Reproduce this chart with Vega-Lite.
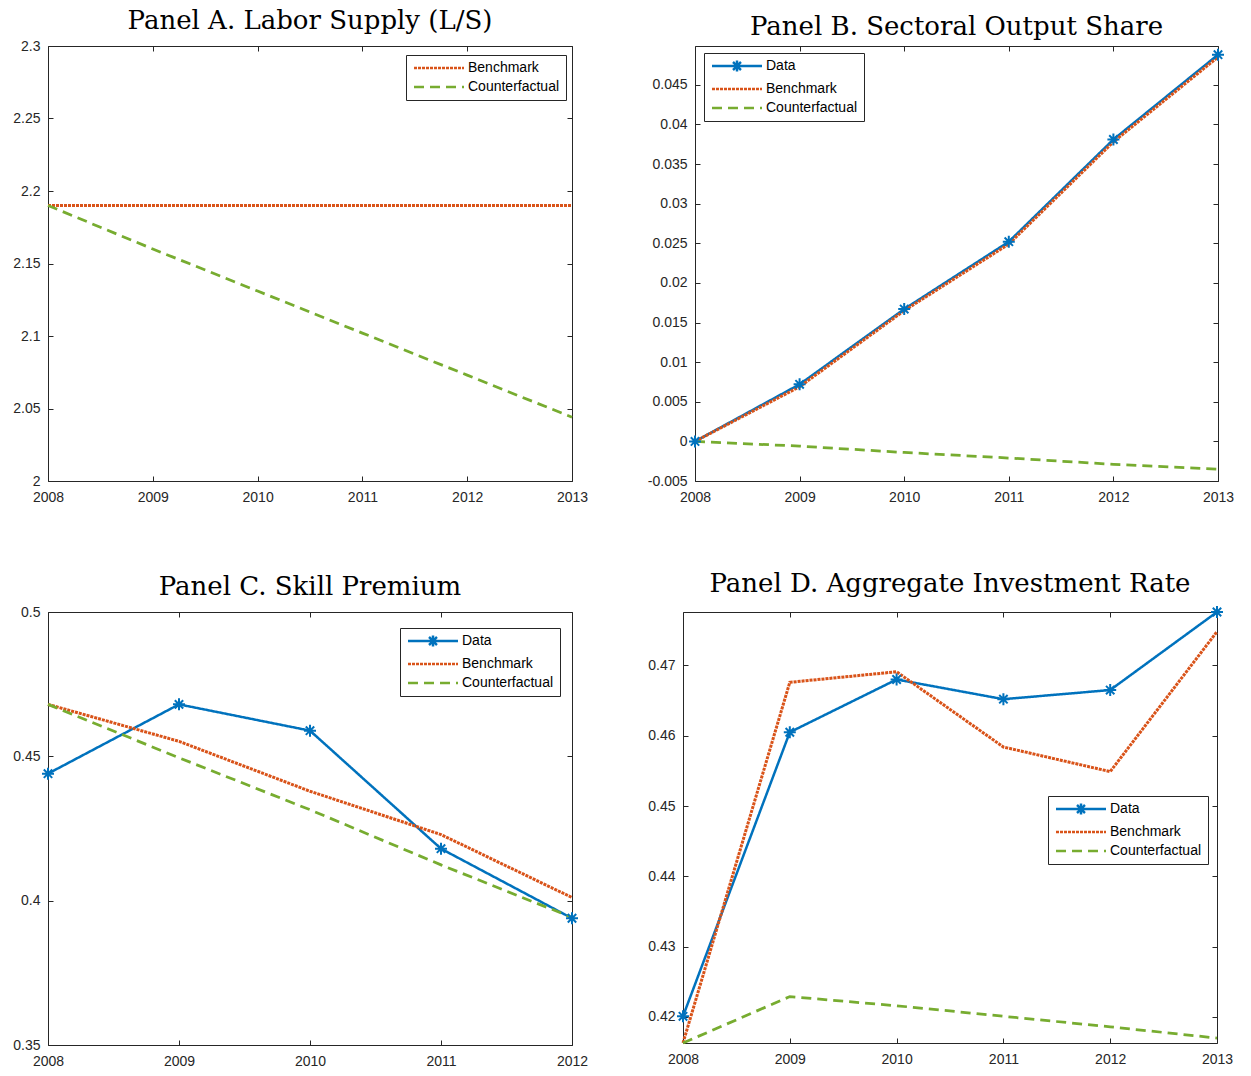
{
  "$schema": "https://vega.github.io/schema/vega-lite/v6.json",
  "background": "white",
  "padding": {"left": 12, "top": 7, "right": 5, "bottom": 5},
  "config": {
    "view": {"stroke": "#262626", "strokeWidth": 1},
    "font": "Liberation Sans",
    "title": {"font": "DejaVu Serif", "fontSize": 26, "fontWeight": "normal", "color": "#000000", "offset": 5, "anchor": "middle"},
    "axis": {"grid": false, "domain": false, "tickSize": -5, "tickColor": "#262626", "labelColor": "#262626", "labelFont": "Liberation Sans", "labelFontSize": 14, "labelFlush": false, "labelOverlap": false, "title": null},
    "legend": {"orient": "none", "title": null, "strokeColor": "#262626", "fillColor": "white", "padding": 6, "labelFont": "Liberation Sans", "labelFontSize": 14, "labelColor": "#000000", "symbolSize": 100, "symbolStrokeWidth": 2.5, "labelOffset": 42, "rowPadding": 5, "cornerRadius": 0}
  },
  "datasets": {
    "A": [
      {"year": 2008, "series": "Benchmark", "value": 2.19},
      {"year": 2009, "series": "Benchmark", "value": 2.19},
      {"year": 2010, "series": "Benchmark", "value": 2.19},
      {"year": 2011, "series": "Benchmark", "value": 2.19},
      {"year": 2012, "series": "Benchmark", "value": 2.19},
      {"year": 2013, "series": "Benchmark", "value": 2.19},
      {"year": 2008, "series": "Counterfactual", "value": 2.19},
      {"year": 2009, "series": "Counterfactual", "value": 2.160},
      {"year": 2010, "series": "Counterfactual", "value": 2.131},
      {"year": 2011, "series": "Counterfactual", "value": 2.102},
      {"year": 2012, "series": "Counterfactual", "value": 2.073},
      {"year": 2013, "series": "Counterfactual", "value": 2.044}
    ],
    "B": [
      {"year": 2008, "series": "Data", "value": 0.0},
      {"year": 2009, "series": "Data", "value": 0.0072},
      {"year": 2010, "series": "Data", "value": 0.0167},
      {"year": 2011, "series": "Data", "value": 0.0252},
      {"year": 2012, "series": "Data", "value": 0.0381},
      {"year": 2013, "series": "Data", "value": 0.0488},
      {"year": 2008, "series": "Benchmark", "value": 0.0},
      {"year": 2009, "series": "Benchmark", "value": 0.0069},
      {"year": 2010, "series": "Benchmark", "value": 0.0165},
      {"year": 2011, "series": "Benchmark", "value": 0.0249},
      {"year": 2012, "series": "Benchmark", "value": 0.0378},
      {"year": 2013, "series": "Benchmark", "value": 0.0485},
      {"year": 2008, "series": "Counterfactual", "value": 0.0},
      {"year": 2009, "series": "Counterfactual", "value": -0.0006},
      {"year": 2010, "series": "Counterfactual", "value": -0.0014},
      {"year": 2011, "series": "Counterfactual", "value": -0.0021},
      {"year": 2012, "series": "Counterfactual", "value": -0.0029},
      {"year": 2013, "series": "Counterfactual", "value": -0.0035}
    ],
    "C": [
      {"year": 2008, "series": "Data", "value": 0.4440},
      {"year": 2009, "series": "Data", "value": 0.4680},
      {"year": 2010, "series": "Data", "value": 0.4589},
      {"year": 2011, "series": "Data", "value": 0.4180},
      {"year": 2012, "series": "Data", "value": 0.3939},
      {"year": 2008, "series": "Benchmark", "value": 0.4680},
      {"year": 2009, "series": "Benchmark", "value": 0.4552},
      {"year": 2010, "series": "Benchmark", "value": 0.4379},
      {"year": 2011, "series": "Benchmark", "value": 0.4229},
      {"year": 2012, "series": "Benchmark", "value": 0.4011},
      {"year": 2008, "series": "Counterfactual", "value": 0.4680},
      {"year": 2009, "series": "Counterfactual", "value": 0.4495},
      {"year": 2010, "series": "Counterfactual", "value": 0.4315},
      {"year": 2011, "series": "Counterfactual", "value": 0.4124},
      {"year": 2012, "series": "Counterfactual", "value": 0.3942}
    ],
    "D": [
      {"year": 2008, "series": "Data", "value": 0.4201},
      {"year": 2009, "series": "Data", "value": 0.4605},
      {"year": 2010, "series": "Data", "value": 0.4680},
      {"year": 2011, "series": "Data", "value": 0.4652},
      {"year": 2012, "series": "Data", "value": 0.4665},
      {"year": 2013, "series": "Data", "value": 0.4776},
      {"year": 2008, "series": "Benchmark", "value": 0.4163},
      {"year": 2009, "series": "Benchmark", "value": 0.4676},
      {"year": 2010, "series": "Benchmark", "value": 0.4691},
      {"year": 2011, "series": "Benchmark", "value": 0.4584},
      {"year": 2012, "series": "Benchmark", "value": 0.4549},
      {"year": 2013, "series": "Benchmark", "value": 0.4748},
      {"year": 2008, "series": "Counterfactual", "value": 0.4163},
      {"year": 2009, "series": "Counterfactual", "value": 0.4229},
      {"year": 2010, "series": "Counterfactual", "value": 0.4216},
      {"year": 2011, "series": "Counterfactual", "value": 0.4201},
      {"year": 2012, "series": "Counterfactual", "value": 0.4186},
      {"year": 2013, "series": "Counterfactual", "value": 0.4170}
    ]
  },
  "spacing": 65,
  "resolve": {"scale": {"color": "independent", "strokeDash": "independent"}, "legend": {"color": "independent", "strokeDash": "independent"}},
  "vconcat": [
    {
      "hconcat": [
        {
          "title": "Panel A. Labor Supply (L/S)",
          "width": 524, "height": 435,
          "data": {"name": "A"},
          "layer": [
            {
              "mark": {"type": "line"},
              "encoding": {
                "x": {"field": "year", "type": "quantitative", "scale": {"domain": [2008, 2013], "nice": false, "zero": false}, "axis": {"orient": "bottom", "values": [2008, 2009, 2010, 2011, 2012, 2013], "format": "d", "labelPadding": 14}},
                "y": {"field": "value", "type": "quantitative", "scale": {"domain": [2.0, 2.3], "nice": false, "zero": false}, "axis": {"orient": "left", "values": [2.0, 2.05, 2.1, 2.15, 2.2, 2.25, 2.3], "labelExpr": "datum.value + ''", "labelPadding": 13}},
                "color": {"field": "series", "type": "nominal", "scale": {"domain": ["Benchmark", "Counterfactual"], "range": ["#D95319", "#77AC30"]}, "legend": {"legendX": 358, "legendY": 9, "encode": {"symbols": {"update": {"shape": {"value": "M-1,0H9"}}}}}},
                "strokeDash": {"field": "series", "type": "nominal", "scale": {"domain": ["Benchmark", "Counterfactual"], "range": [[3, 1], [10, 6]]}, "legend": {"legendX": 358, "legendY": 9}},
                "strokeWidth": {"field": "series", "type": "nominal", "scale": {"domain": ["Benchmark", "Counterfactual"], "range": [3, 2.5]}, "legend": null}
              }
            },
            {
              "mark": {"type": "point", "opacity": 0},
              "encoding": {
                "x": {"field": "year", "type": "quantitative", "axis": {"orient": "top", "values": [2008, 2009, 2010, 2011, 2012, 2013], "labels": false}},
                "y": {"field": "value", "type": "quantitative", "axis": {"orient": "right", "values": [2.0, 2.05, 2.1, 2.15, 2.2, 2.25, 2.3], "labels": false}}
              }
            }
          ],
          "resolve": {"axis": {"x": "independent", "y": "independent"}}
        },
        {
          "title": "Panel B. Sectoral Output Share",
          "width": 523, "height": 435,
          "data": {"name": "B"},
          "layer": [
            {
              "mark": {"type": "line"},
              "encoding": {
                "x": {"field": "year", "type": "quantitative", "scale": {"domain": [2008, 2013], "nice": false, "zero": false}, "axis": {"orient": "bottom", "values": [2008, 2009, 2010, 2011, 2012, 2013], "format": "d", "labelPadding": 14}},
                "y": {"field": "value", "type": "quantitative", "scale": {"domain": [-0.005, 0.0499], "nice": false, "zero": false}, "axis": {"orient": "left", "values": [-0.005, 0, 0.005, 0.01, 0.015, 0.02, 0.025, 0.03, 0.035, 0.04, 0.045], "labelExpr": "datum.value + ''", "labelPadding": 13}},
                "color": {"field": "series", "type": "nominal", "scale": {"domain": ["Data", "Benchmark", "Counterfactual"], "range": ["#0072BD", "#D95319", "#77AC30"]}, "legend": {"legendX": 9, "legendY": 7, "encode": {"symbols": {"update": {"shape": {"signal": "datum.value === 'Data' ? 'M-1,0H9M4,-1.1V1.1M2.9,0H5.1M3.2,-0.8L4.8,0.8M3.2,0.8L4.8,-0.8' : 'M-1,0H9'"}}}}}},
                "strokeDash": {"field": "series", "type": "nominal", "scale": {"domain": ["Data", "Benchmark", "Counterfactual"], "range": [[1, 0], [3, 1], [10, 6]]}, "legend": {"legendX": 9, "legendY": 7}},
                "strokeWidth": {"field": "series", "type": "nominal", "scale": {"domain": ["Data", "Benchmark", "Counterfactual"], "range": [2.5, 3, 2.5]}, "legend": null}
              }
            },
            {
              "transform": [{"filter": "datum.series === 'Data'"}],
              "mark": {"type": "point", "shape": "M0,-1V1M-1,0H1M-0.7,-0.7L0.7,0.7M-0.7,0.7L0.7,-0.7", "size": 144, "filled": false, "stroke": "#0072BD", "strokeWidth": 2, "opacity": 1},
              "encoding": {
                "x": {"field": "year", "type": "quantitative", "axis": {"orient": "top", "values": [2008, 2009, 2010, 2011, 2012, 2013], "labels": false}},
                "y": {"field": "value", "type": "quantitative", "axis": {"orient": "right", "values": [-0.005, 0, 0.005, 0.01, 0.015, 0.02, 0.025, 0.03, 0.035, 0.04, 0.045], "labels": false}}
              }
            }
          ],
          "resolve": {"axis": {"x": "independent", "y": "independent"}}
        }
      ],
      "bounds": "flush",
      "spacing": 123,
      "resolve": {"scale": {"color": "independent", "strokeDash": "independent"}, "legend": {"color": "independent", "strokeDash": "independent"}}
    },
    {
      "hconcat": [
        {
          "title": "Panel C. Skill Premium",
          "width": 524, "height": 433,
          "data": {"name": "C"},
          "layer": [
            {
              "mark": {"type": "line"},
              "encoding": {
                "x": {"field": "year", "type": "quantitative", "scale": {"domain": [2008, 2012], "nice": false, "zero": false}, "axis": {"orient": "bottom", "values": [2008, 2009, 2010, 2011, 2012], "format": "d", "labelPadding": 14}},
                "y": {"field": "value", "type": "quantitative", "scale": {"domain": [0.35, 0.5], "nice": false, "zero": false}, "axis": {"orient": "left", "values": [0.35, 0.4, 0.45, 0.5], "labelExpr": "datum.value + ''", "labelPadding": 13}},
                "color": {"field": "series", "type": "nominal", "scale": {"domain": ["Data", "Benchmark", "Counterfactual"], "range": ["#0072BD", "#D95319", "#77AC30"]}, "legend": {"legendX": 352, "legendY": 16, "encode": {"symbols": {"update": {"shape": {"signal": "datum.value === 'Data' ? 'M-1,0H9M4,-1.1V1.1M2.9,0H5.1M3.2,-0.8L4.8,0.8M3.2,0.8L4.8,-0.8' : 'M-1,0H9'"}}}}}},
                "strokeDash": {"field": "series", "type": "nominal", "scale": {"domain": ["Data", "Benchmark", "Counterfactual"], "range": [[1, 0], [3, 1], [10, 6]]}, "legend": {"legendX": 352, "legendY": 16}},
                "strokeWidth": {"field": "series", "type": "nominal", "scale": {"domain": ["Data", "Benchmark", "Counterfactual"], "range": [2.5, 3, 2.5]}, "legend": null}
              }
            },
            {
              "transform": [{"filter": "datum.series === 'Data'"}],
              "mark": {"type": "point", "shape": "M0,-1V1M-1,0H1M-0.7,-0.7L0.7,0.7M-0.7,0.7L0.7,-0.7", "size": 144, "filled": false, "stroke": "#0072BD", "strokeWidth": 2, "opacity": 1},
              "encoding": {
                "x": {"field": "year", "type": "quantitative", "axis": {"orient": "top", "values": [2008, 2009, 2010, 2011, 2012], "labels": false}},
                "y": {"field": "value", "type": "quantitative", "axis": {"orient": "right", "values": [0.35, 0.4, 0.45, 0.5], "labels": false}}
              }
            }
          ],
          "resolve": {"axis": {"x": "independent", "y": "independent"}}
        },
        {
          "title": "Panel D. Aggregate Investment Rate",
          "width": 534, "height": 431,
          "data": {"name": "D"},
          "layer": [
            {
              "mark": {"type": "line"},
              "encoding": {
                "x": {"field": "year", "type": "quantitative", "scale": {"domain": [2008, 2013], "nice": false, "zero": false}, "axis": {"orient": "bottom", "values": [2008, 2009, 2010, 2011, 2012, 2013], "format": "d", "labelPadding": 14}},
                "y": {"field": "value", "type": "quantitative", "scale": {"domain": [0.4163, 0.4776], "nice": false, "zero": false}, "axis": {"orient": "left", "values": [0.42, 0.43, 0.44, 0.45, 0.46, 0.47], "labelExpr": "datum.value + ''", "labelPadding": 13}},
                "color": {"field": "series", "type": "nominal", "scale": {"domain": ["Data", "Benchmark", "Counterfactual"], "range": ["#0072BD", "#D95319", "#77AC30"]}, "legend": {"legendX": 365, "legendY": 184, "encode": {"symbols": {"update": {"shape": {"signal": "datum.value === 'Data' ? 'M-1,0H9M4,-1.1V1.1M2.9,0H5.1M3.2,-0.8L4.8,0.8M3.2,0.8L4.8,-0.8' : 'M-1,0H9'"}}}}}},
                "strokeDash": {"field": "series", "type": "nominal", "scale": {"domain": ["Data", "Benchmark", "Counterfactual"], "range": [[1, 0], [3, 1], [10, 6]]}, "legend": {"legendX": 365, "legendY": 184}},
                "strokeWidth": {"field": "series", "type": "nominal", "scale": {"domain": ["Data", "Benchmark", "Counterfactual"], "range": [2.5, 3, 2.5]}, "legend": null}
              }
            },
            {
              "transform": [{"filter": "datum.series === 'Data'"}],
              "mark": {"type": "point", "shape": "M0,-1V1M-1,0H1M-0.7,-0.7L0.7,0.7M-0.7,0.7L0.7,-0.7", "size": 144, "filled": false, "stroke": "#0072BD", "strokeWidth": 2, "opacity": 1},
              "encoding": {
                "x": {"field": "year", "type": "quantitative", "axis": {"orient": "top", "values": [2008, 2009, 2010, 2011, 2012, 2013], "labels": false}},
                "y": {"field": "value", "type": "quantitative", "axis": {"orient": "right", "values": [0.42, 0.43, 0.44, 0.45, 0.46, 0.47], "labels": false}}
              }
            }
          ],
          "resolve": {"axis": {"x": "independent", "y": "independent"}}
        }
      ],
      "bounds": "flush",
      "spacing": 111,
      "resolve": {"scale": {"color": "independent", "strokeDash": "independent"}, "legend": {"color": "independent", "strokeDash": "independent"}}
    }
  ]
}
